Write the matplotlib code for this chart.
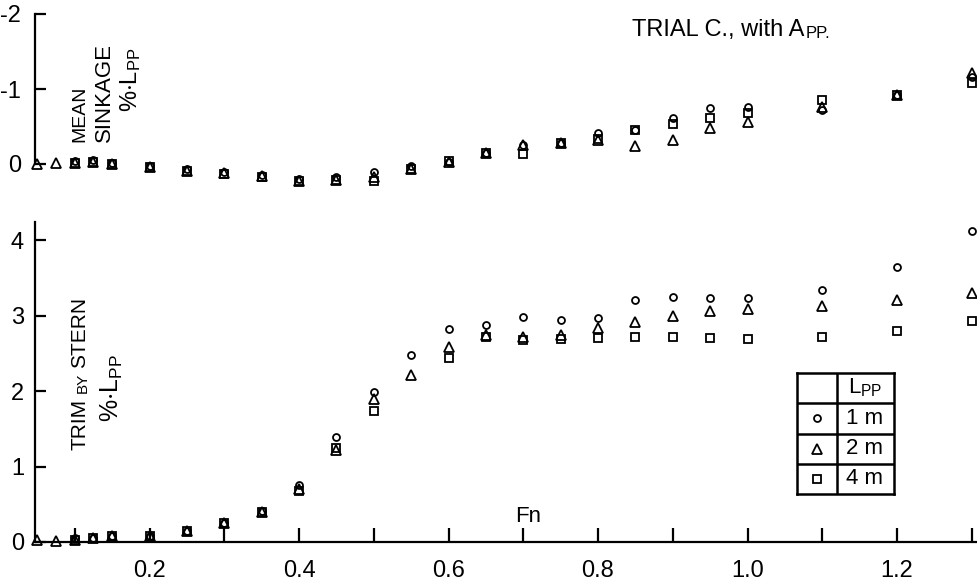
import matplotlib
matplotlib.use("Agg")
import matplotlib.pyplot as plt
import numpy as np

plt.rcParams["font.family"] = ["Liberation Sans", "DejaVu Sans"]
plt.rcParams["mathtext.default"] = "regular"

nan = np.nan

# Froude numbers of the runs
fn = [0.05, 0.075, 0.1, 0.125, 0.15, 0.2, 0.25, 0.3, 0.35, 0.4, 0.45, 0.5, 0.55,
      0.6, 0.65, 0.7, 0.75, 0.8, 0.85, 0.9, 0.95, 1.0, 1.1, 1.2, 1.3]

# mean sinkage, % of Lpp (negative = rise)
sink_1m = [nan, nan, -0.04, -0.05, -0.02, 0.02, 0.07, 0.10, 0.14, 0.20, 0.17, 0.11, 0.03,
           -0.03, -0.15, -0.25, -0.28, -0.41, -0.46, -0.61, -0.75, -0.76, -0.72, -0.92, -1.16]
sink_2m = [0.0, -0.02, -0.02, -0.03, 0.0, 0.04, 0.09, 0.12, 0.16, 0.23, 0.21, 0.17, 0.07,
           -0.03, -0.15, -0.26, -0.28, -0.32, -0.24, -0.32, -0.48, -0.56, -0.76, -0.92, -1.21]
sink_4m = [nan, nan, -0.02, -0.03, 0.0, 0.04, 0.09, 0.13, 0.17, 0.23, 0.21, 0.22, 0.06,
           -0.04, -0.15, -0.13, -0.28, -0.33, -0.46, -0.53, -0.61, -0.68, -0.85, -0.92, -1.08]

# trim by stern, % of Lpp
trim_1m = [nan, nan, 0.05, 0.05, 0.08, 0.08, 0.14, 0.25, 0.41, 0.75, 1.39, 1.99, 2.48,
           2.82, 2.87, 2.98, 2.94, 2.97, 3.20, 3.25, 3.23, 3.23, 3.34, 3.64, 4.12]
trim_2m = [0.03, 0.01, 0.03, 0.05, 0.08, 0.08, 0.14, 0.25, 0.40, 0.70, 1.22, 1.90, 2.21,
           2.59, 2.74, 2.72, 2.74, 2.83, 2.92, 3.00, 3.06, 3.09, 3.13, 3.20, 3.30]
trim_4m = [nan, nan, 0.03, 0.05, 0.08, 0.08, 0.14, 0.25, 0.40, 0.68, 1.25, 1.73, nan,
           2.44, 2.72, 2.67, 2.69, 2.70, 2.72, 2.71, 2.70, 2.69, 2.72, 2.80, 2.93]

lengths = ["1 m", "2 m", "4 m"]
markers = ["o", "^", "s"]
msizes = [5, 6.5, 5.5]

xticks_major = [0.2, 0.4, 0.6, 0.8, 1.0, 1.2]
xtick_labels = ["0.2", "0.4", "0.6", "0.8", "1.0", "1.2"]
xticks_minor = [0.1, 0.3, 0.5, 0.7, 0.9, 1.1, 1.3]

W, H = 978, 587
fig = plt.figure(figsize=(W / 100, H / 100), dpi=100)


def box(x0, y0, x1, y1):
    # pixel box (top-left origin) -> figure fraction rect
    return [x0 / W, 1 - y1 / H, (x1 - x0) / W, (y1 - y0) / H]


def fpos(x, y):
    return x / W, 1 - y / H


xlim = (35 / 747.5, 978 / 747.5)

# ---- top panel: mean sinkage
ax1 = fig.add_axes(box(35, 14, 978, 164))
for ys, m, s in zip([sink_1m, sink_2m, sink_4m], markers, msizes):
    ax1.plot(fn, ys, ls="none", marker=m, ms=s, mfc="none", mec="black", mew=1.3, clip_on=False)
ax1.set_xlim(*xlim)
ax1.set_ylim(0, -2)
for s in ["top", "right", "bottom"]:
    ax1.spines[s].set_visible(False)
ax1.spines["left"].set_linewidth(1.6)
ax1.set_xticks([])
ax1.set_yticks([-2, -1, 0])
ax1.set_yticklabels(["-2", "-1", "0"])
ax1.tick_params(axis="y", direction="in", length=8, width=1.6, pad=10, labelsize=17)

# ---- bottom panel: trim
ax2 = fig.add_axes(box(35, 222, 978, 542))
for ys, m, s in zip([trim_1m, trim_2m, trim_4m], markers, msizes):
    ax2.plot(fn, ys, ls="none", marker=m, ms=s, mfc="none", mec="black", mew=1.3, clip_on=False)
ax2.set_xlim(*xlim)
ax2.set_ylim(0, 4.24)
for s in ["top", "right"]:
    ax2.spines[s].set_visible(False)
ax2.spines["left"].set_linewidth(1.6)
ax2.spines["bottom"].set_linewidth(1.6)
ax2.set_yticks([0, 1, 2, 3, 4])
ax2.set_xticks(xticks_major)
ax2.set_xticklabels(xtick_labels)
ax2.set_xticks(xticks_minor, minor=True)
ax2.tick_params(axis="y", direction="in", length=8, width=1.6, pad=8, labelsize=17)
ax2.tick_params(axis="x", which="both", direction="in", length=10, width=1.6, pad=13, labelsize=17)

# ---- axis labels
fig.text(*fpos(80, 142), "MEAN", rotation=90, ha="center", va="bottom", fontsize=14)
fig.text(*fpos(104, 142), "SINKAGE", rotation=90, ha="center", va="bottom", fontsize=16)
fig.text(*fpos(131, 80), r"%$\cdot$L$_{PP}$", rotation=90, ha="center", va="center", fontsize=17)

t1 = fig.text(*fpos(80, 450), "TRIM", rotation=90, ha="center", va="bottom", fontsize=15)
t2 = ax2.annotate("BY", xy=(1, 1), xycoords=t1, xytext=(0, 4), textcoords="offset points",
                  rotation=90, ha="right", va="bottom", fontsize=11)
ax2.annotate("STERN", xy=(1, 1), xycoords=t2, xytext=(0, 4), textcoords="offset points",
             rotation=90, ha="right", va="bottom", fontsize=15)
fig.text(*fpos(112, 388), r"%$\cdot$L$_{PP}$", rotation=90, ha="center", va="center", fontsize=18)

fig.text(*fpos(528, 516), "Fn", ha="center", va="center", fontsize=16)

tt = fig.text(*fpos(632, 36), "TRIAL C., with A", ha="left", va="baseline", fontsize=17)
ax2.annotate("PP.", xy=(1, 0), xycoords=tt, xytext=(1, 0), textcoords="offset points",
             ha="left", va="bottom", fontsize=12)

# ---- legend table
axl = fig.add_axes(box(797, 373, 894, 494))
axl.set_xlim(0, 1)
axl.set_ylim(0, 4)
axl.set_xticks([])
axl.set_yticks([])
for s in axl.spines.values():
    s.set_linewidth(1.8)
axl.axvline(0.41, color="black", lw=1.8)
for yy in [1, 2, 3]:
    axl.axhline(yy, color="black", lw=1.8)
axl.text(0.705, 3.5, r"L$_{PP}$", ha="center", va="center", fontsize=16)
for i, (lab, m, s) in enumerate(zip(lengths, markers, msizes)):
    yc = 2.5 - i
    axl.plot([0.205], [yc], ls="none", marker=m, ms=s, mfc="none", mec="black", mew=1.3)
    axl.text(0.5, yc, lab, ha="left", va="center", fontsize=16)

fig.savefig("out.png", dpi=100, facecolor="white")
